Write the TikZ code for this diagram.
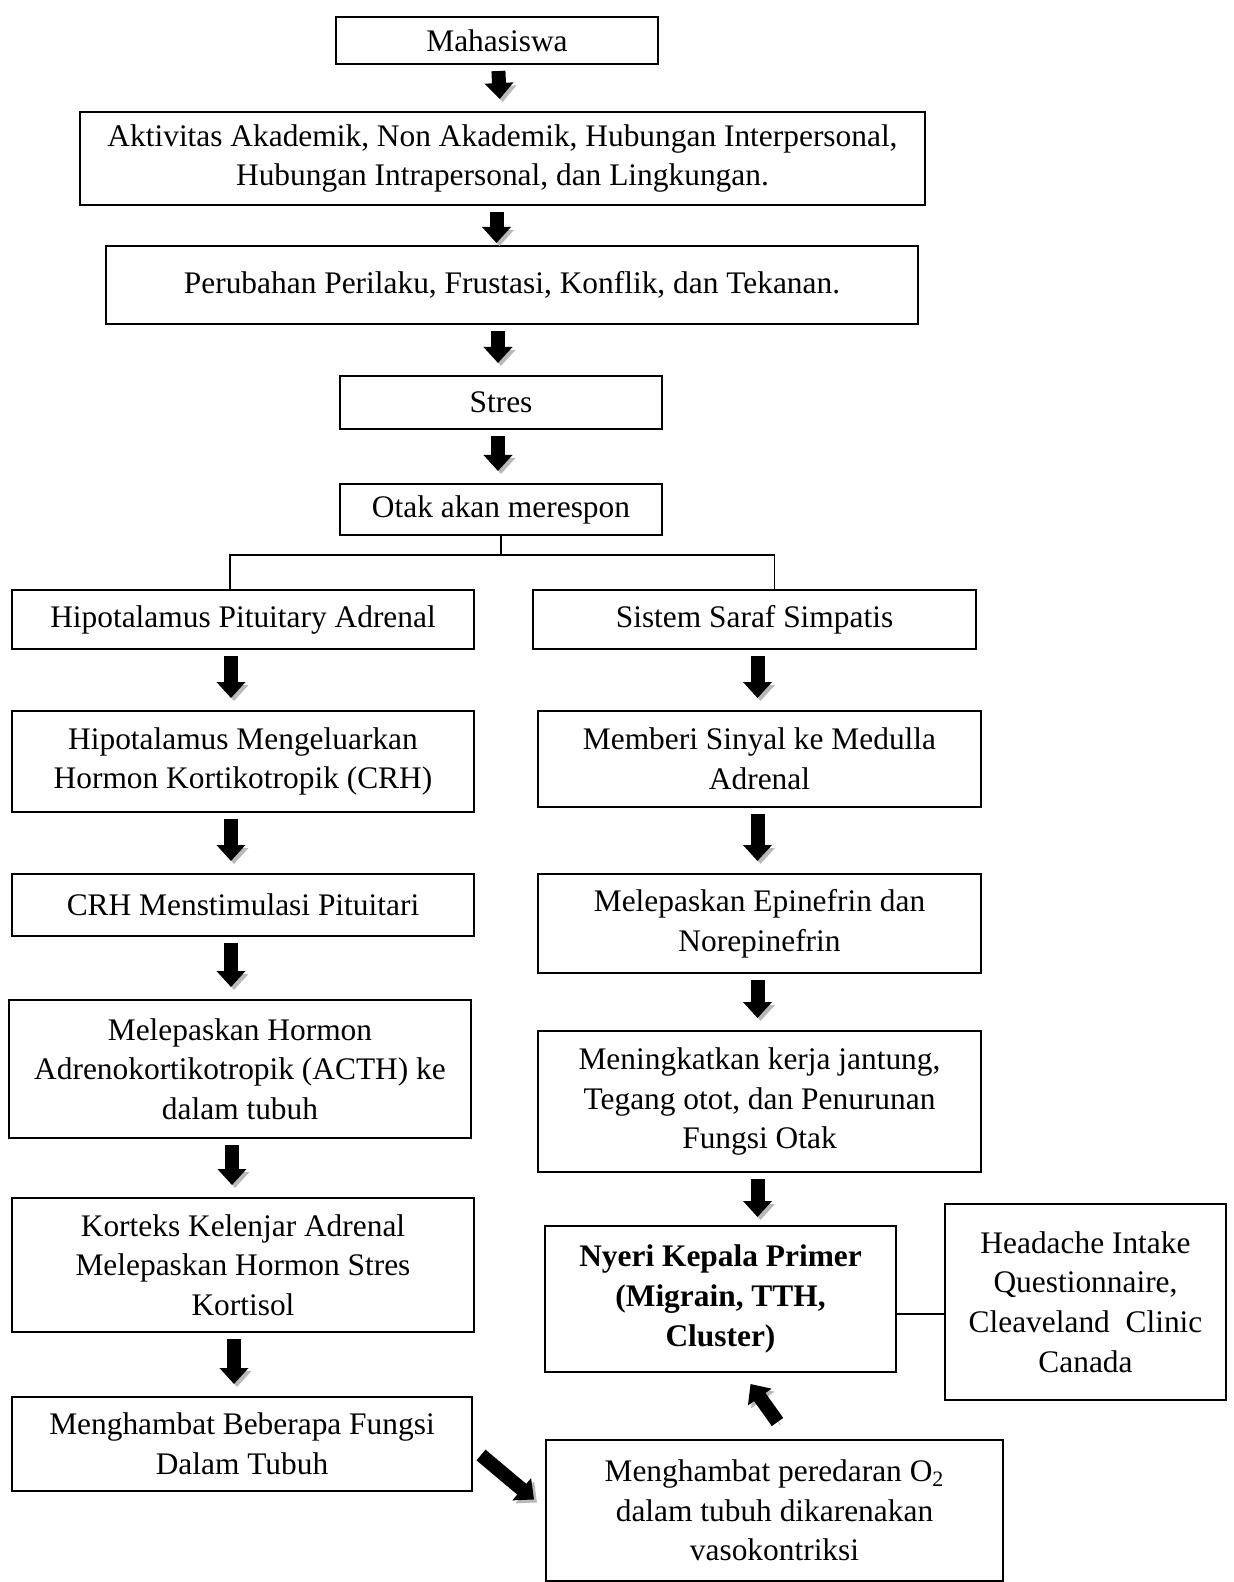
\documentclass[tikz,border=0pt]{standalone}
\usepackage{fontspec}
\setmainfont{Liberation Serif}
\usetikzlibrary{arrows.meta}

\begin{document}
\begin{tikzpicture}[x=0.5pt, y=-0.5pt,
    box/.style={draw, line width=1pt, align=center, inner sep=0pt,
        font=\fontsize{15.7}{19.8}\selectfont},
    blockarr/.style={line width=7pt, -{Triangle[length=8pt,width=14pt]},
        shorten <=3pt, shorten >=6pt,
        preaction={draw=gray!55, -{Triangle[length=8pt,width=14pt]},
            transform canvas={shift={(1.5pt,-1.5pt)}}}},
    link/.style={line width=0.8pt}]
    \useasboundingbox (0,0) rectangle (1233,1582);

    % main column
    \node[box, minimum width=161pt, minimum height=23.5pt]   (mhs) at (497,40.5) {Mahasiswa};
    \node[box, minimum width=422.5pt, minimum height=46.5pt] (akt) at (502.5,158.5) {Aktivitas Akademik, Non Akademik, Hubungan Interpersonal,\\Hubungan Intrapersonal, dan Lingkungan.};
    \node[box, minimum width=406pt, minimum height=39pt]     (per) at (512,285) {Perubahan Perilaku, Frustasi, Konflik, dan Tekanan.};
    \node[box, minimum width=161pt, minimum height=26.5pt]   (str) at (501,402.5) {Stres};
    \node[box, minimum width=161pt, minimum height=25.5pt]   (otk) at (501,509.5) {Otak akan merespon};

    % left branch
    \node[box, minimum width=231pt, minimum height=29.5pt] (hpa) at (243,619.5) {Hipotalamus Pituitary Adrenal};
    \node[box, minimum width=231pt, minimum height=50.5pt] (hmk) at (243,761.5) {Hipotalamus Mengeluarkan\\Hormon Kortikotropik (CRH)};
    \node[box, minimum width=231pt, minimum height=31pt]   (crh) at (243,905) {CRH Menstimulasi Pituitari};
    \node[box, minimum width=231pt, minimum height=69pt]   (acth) at (240,1069) {Melepaskan Hormon\\Adrenokortikotropik (ACTH) ke\\dalam tubuh};
    \node[box, minimum width=231pt, minimum height=67pt]   (kor) at (243,1265) {Korteks Kelenjar Adrenal\\Melepaskan Hormon Stres\\Kortisol};
    \node[box, minimum width=230pt, minimum height=47pt]   (mbf) at (242,1444) {Menghambat Beberapa Fungsi\\Dalam Tubuh};

    % right branch
    \node[box, minimum width=221.5pt, minimum height=29.5pt] (sss) at (754.5,619.5) {Sistem Saraf Simpatis};
    \node[box, minimum width=221.5pt, minimum height=48pt]   (msm) at (759.5,759) {Memberi Sinyal ke Medulla\\Adrenal};
    \node[box, minimum width=221.5pt, minimum height=49.5pt] (epi) at (759.5,923.5) {Melepaskan Epinefrin dan\\Norepinefrin};
    \node[box, minimum width=221.5pt, minimum height=70.5pt] (jtg) at (759.5,1101.5) {Meningkatkan kerja jantung,\\Tegang otot, dan Penurunan\\Fungsi Otak};
    \node[box, minimum width=175.5pt, minimum height=73pt, font=\fontsize{15.7}{19.8}\selectfont\bfseries] (nyr) at (720.5,1299) {Nyeri Kepala Primer\\(Migrain, TTH,\\Cluster)};
    \node[box, minimum width=140.5pt, minimum height=98pt]   (hiq) at (1085.5,1302) {Headache Intake\\Questionnaire,\\Cleaveland\ \ Clinic\\Canada};
    \node[box, minimum width=228.5pt, minimum height=70.5pt] (mpo) at (774.5,1510.5) {Menghambat peredaran O\textsubscript{2}\\dalam tubuh dikarenakan\\vasokontriksi};

    % block arrows
    \draw[blockarr] (mhs) -- (akt);
    \draw[blockarr, shorten <=3pt, shorten >=1pt] ([xshift=-3pt]akt.south) -- ([xshift=-3pt]akt.south |- per.north);
    \draw[blockarr] ([xshift=-7pt]per.south) -- ([xshift=-7pt]per.south |- str.north);
    \draw[blockarr] ([xshift=-1.5pt]str.south) -- ([xshift=-1.5pt]otk.north);
    \draw[blockarr] ([xshift=-6pt]hpa.south) -- ([xshift=-6pt]hmk.north);
    \draw[blockarr] ([xshift=-6pt]hmk.south) -- ([xshift=-6pt]crh.north);
    \draw[blockarr] ([xshift=-6pt]crh.south) -- ([xshift=-6pt]crh.south |- acth.north);
    \draw[blockarr] ([xshift=-4pt]acth.south) -- ([xshift=-4pt]acth.south |- kor.north);
    \draw[blockarr] ([xshift=-4.5pt]kor.south) -- ([xshift=-4.5pt]kor.south |- mbf.north);
    \draw[blockarr] ([xshift=1.5pt]sss.south) -- ([xshift=1.5pt]sss.south |- msm.north);
    \draw[blockarr] ([xshift=-1pt]msm.south) -- ([xshift=-1pt]epi.north);
    \draw[blockarr] ([xshift=-1pt]epi.south) -- ([xshift=-1pt]jtg.north);
    \draw[blockarr, shorten <=3pt, shorten >=4pt] ([xshift=-1pt]jtg.south) -- ([xshift=-1pt]jtg.south |- nyr.north);
    \draw[blockarr, shorten <=0pt, shorten >=0pt] ([shift={(8,11)}]mbf.east) -- ([shift={(-11,-11)}]mpo.west);
    \draw[blockarr, shorten <=0pt, shorten >=0pt] ([shift={(3,-17)}]mpo.north) -- ([shift={(30,11)}]nyr.south);

    % fork and side link
    \draw[link] (otk.south) -- ++(0,19) coordinate (fork);
    \draw[link] (fork) -| ([xshift=-6.5pt]hpa.north);
    \draw[link] (fork) -| ([xshift=10pt]sss.north);
    \draw[link] ([yshift=-7.5pt]nyr.east) -- ([yshift=-7.5pt]nyr.east -| hiq.west);
\end{tikzpicture}
\end{document}
